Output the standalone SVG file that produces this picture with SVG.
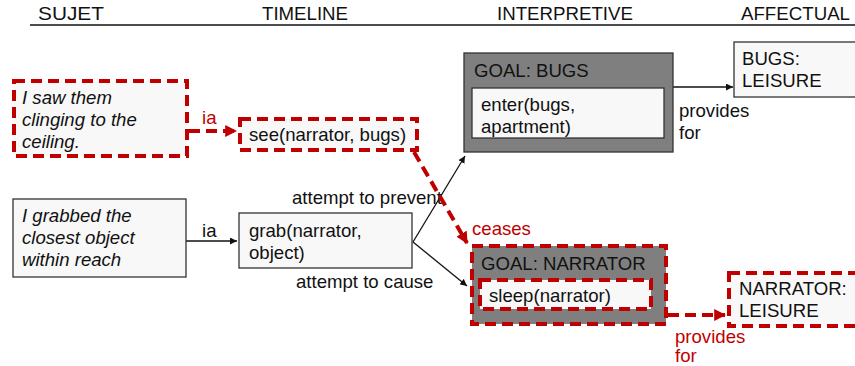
<svg xmlns="http://www.w3.org/2000/svg" width="855" height="366" viewBox="0 0 855 366">
<defs>
<style>
text{font-family:"Liberation Sans",Arial,sans-serif;font-size:18.6px;fill:#111}
.hd{font-size:18px}
.it{font-style:italic}
.red{fill:#c00000}
.box{fill:#f8f8f8;stroke:#333;stroke-width:1.3}
.goal{fill:#7f7f7f;stroke:#333;stroke-width:1.3}
.rbox{stroke:#c00000;stroke-width:4;stroke-dasharray:11 6}
.bl{stroke:#111;stroke-width:1.3;fill:none}
.rl{stroke:#c00000;stroke-width:4;stroke-dasharray:11 6;fill:none}
</style>
<marker id="ab" viewBox="0 0 10 10" refX="10" refY="5" markerWidth="7" markerHeight="7" orient="auto" markerUnits="userSpaceOnUse"><path d="M0,0L10,5L0,10z" fill="#111"/></marker>
<marker id="ar" viewBox="0 0 10 10" refX="9" refY="5" markerWidth="12" markerHeight="12" orient="auto" markerUnits="userSpaceOnUse"><path d="M0,0L10,5L0,10z" fill="#c00000"/></marker>
</defs>
<g id="header">
<text class="hd" x="38" y="20" textLength="66" lengthAdjust="spacingAndGlyphs">SUJET</text>
<text class="hd" x="262" y="20" textLength="86" lengthAdjust="spacingAndGlyphs">TIMELINE</text>
<text class="hd" x="497" y="20" textLength="136" lengthAdjust="spacingAndGlyphs">INTERPRETIVE</text>
<text class="hd" x="741" y="20" textLength="109" lengthAdjust="spacingAndGlyphs">AFFECTUAL</text>
<line x1="30" y1="25" x2="855" y2="25" stroke="#111" stroke-width="1.5"/>
</g>
<g id="connectors">
<line class="rl" x1="189" y1="131" x2="236" y2="131" marker-end="url(#ar)"/>
<text class="red" x="202" y="124">ia</text>
<line class="bl" x1="186" y1="241" x2="237" y2="241" marker-end="url(#ab)"/>
<text x="202" y="237">ia</text>
<line class="bl" x1="413" y1="242" x2="465" y2="156" marker-end="url(#ab)"/>
<line class="bl" x1="413" y1="242" x2="467" y2="286" marker-end="url(#ab)"/>
<text x="292" y="204">attempt to prevent</text>
<text x="296" y="288">attempt to cause</text>
<line class="rl" x1="414" y1="152" x2="467" y2="243" marker-end="url(#ar)"/>
<text class="red" x="472" y="235">ceases</text>
<line class="bl" x1="673" y1="87" x2="733" y2="87" marker-end="url(#ab)"/>
<text x="679" y="117">provides</text>
<text x="679" y="139">for</text>
<line class="rl" x1="668" y1="315" x2="725" y2="315" marker-end="url(#ar)"/>
<text class="red" x="675" y="343">provides</text>
<text class="red" x="675" y="362">for</text>
</g>
<g id="sujet1">
<rect class="box rbox" x="14" y="81" width="173" height="75"/>
<text class="it" x="22" y="104">I saw them</text>
<text class="it" x="22" y="126">clinging to the</text>
<text class="it" x="22" y="148">ceiling.</text>
</g>
<g id="see">
<rect class="box rbox" x="240" y="119" width="177" height="31"/>
<text x="249" y="141">see(narrator, bugs)</text>
</g>
<g id="sujet2">
<rect class="box" x="13" y="199" width="173" height="78"/>
<text class="it" x="22" y="222">I grabbed the</text>
<text class="it" x="22" y="244">closest object</text>
<text class="it" x="22" y="266">within reach</text>
</g>
<g id="grab">
<rect class="box" x="239" y="213" width="173" height="55"/>
<text x="249" y="237">grab(narrator,</text>
<text x="249" y="259">object)</text>
</g>
<g id="goal-bugs">
<rect class="goal" x="464" y="53" width="209" height="99"/>
<text x="474" y="77">GOAL: BUGS</text>
<rect class="box" x="472" y="88" width="192" height="50"/>
<text x="481" y="111">enter(bugs,</text>
<text x="481" y="133">apartment)</text>
</g>
<g id="bugs-leisure">
<rect class="box" x="734" y="42" width="125" height="55"/>
<text x="742" y="65">BUGS:</text>
<text x="742" y="87">LEISURE</text>
</g>
<g id="goal-narrator">
<rect class="goal rbox" x="472" y="246" width="194" height="78"/>
<text x="481" y="270">GOAL: NARRATOR</text>
<rect class="box rbox" x="480" y="280" width="171" height="29"/>
<text x="489" y="302">sleep(narrator)</text>
</g>
<g id="narrator-leisure">
<rect class="box rbox" x="729" y="273" width="130" height="53"/>
<text x="739" y="295">NARRATOR:</text>
<text x="739" y="317">LEISURE</text>
</g>
</svg>
